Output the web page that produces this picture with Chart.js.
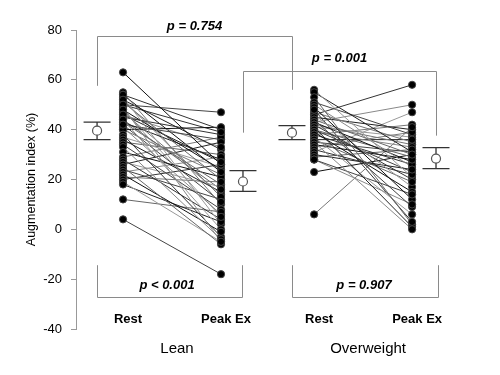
<!DOCTYPE html>
<html>
<head>
<meta charset="utf-8">
<script src="https://cdn.jsdelivr.net/npm/chart.js@4/dist/chart.umd.min.js"></script>
<style>
  html, body { margin: 0; padding: 0; background: #fff; }
  #wrap { width: 500px; height: 375px; }
</style>
</head>
<body>
<div id="wrap"><canvas id="aixChart" width="500" height="375"></canvas></div>
<script>
// Augmentation index, paired rest vs peak exercise
const yTicks = [-40, -20, 0, 20, 40, 60, 80]
const conditions = ["Rest", "Peak Ex"]
const groups = ["Lean", "Overweight"]

const leanRest = [63, 55, 54, 53, 52, 51, 50, 49, 48, 47, 45, 44, 43, 43, 42, 41, 40, 40, 38, 37, 36, 35, 34, 33,
  31, 29, 28, 27, 26, 25, 24, 23, 22, 21, 20, 19, 18, 12, 4, 46, 54, 52, 50, 48, 46, 44, 42]
const leanPeak = [26, 10, 40, 2, 32, 20, 47, -5, 24, 14, 38, 0, 28, 18, 36, 6, 41, 22, -3, 25, 15, 30, 8, -4,
  21, 37, 4, 17, 35, -6, 12, 29, -1, 19, 26, -5, 3, 7, -18, 33, 23, 13, 39, 5, 27, 16, 11]

const owRest = [56, 55, 53, 51, 50, 49, 47, 46, 46, 45, 44, 44, 43, 43, 42, 42, 41, 41, 40, 40, 39, 39, 38, 38,
  37, 36, 36, 35, 35, 34, 33, 32, 31, 30, 29, 28, 28, 23, 6, 48]
const owPeak = [21, 31, 2, 38, 25, 12, 35, 58, 17, 40, 30, 9, 50, 27, 34, 20, 37, 1, 29, 23, 33, 15, 42, 26,
  6, 36, 19, 31, 0, 28, 39, 22, 47, 24, 32, 14, 10, 30, 41, 3]

// group means and error bar limits: [lean rest, lean peak, ow rest, ow peak]
const meanVals = [39.6, 19.2, 38.8, 28.4]
const errLow = [36, 15.2, 36, 24.4]
const errHigh = [43, 23.6, 41.6, 32.8]

const pLabels = ["p = 0.754", "p = 0.001", "p < 0.001", "p = 0.907"]

// x positions of columns (rest/peak per group) and of the mean markers
const colX = [1, 2, 2.95, 3.95]
const meanX = [0.735, 2.224, 2.724, 4.194]

const lineGreys = ["#111", "#777", "#333", "#999", "#222", "#666", "#444", "#888"]

function pairSets(rest, peak, xa, xb, offset) {
  return rest.map((r, i) => ({
    type: "line",
    data: [{ x: xa, y: r }, { x: xb, y: peak[i] }],
    borderColor: lineGreys[(i + offset) % lineGreys.length],
    borderWidth: 1,
    pointRadius: 0,
    order: 3,
  }))
}

function dotSet(vals, x) {
  return {
    type: "scatter",
    data: vals.map(v => ({ x: x, y: v })),
    backgroundColor: "#000",
    borderColor: "#444",
    borderWidth: 1,
    pointRadius: 3.6,
    order: 1,
  }
}

const meanSet = {
  type: "scatter",
  data: meanVals.map((v, i) => ({ x: meanX[i], y: v })),
  backgroundColor: "#fff",
  borderColor: "#555",
  borderWidth: 1.2,
  pointRadius: 4.5,
  order: 0,
}

// error bars, brackets and texts
const decorPlugin = {
  id: "decor",
  beforeDatasetsDraw(chart) {
    const { ctx } = chart
    const xs = chart.scales.x, ys = chart.scales.y
    const X = v => xs.getPixelForValue(v)
    const Y = v => ys.getPixelForValue(v)
    ctx.save()
    ctx.strokeStyle = "#333"
    ctx.lineWidth = 1.3
    meanVals.forEach((m, i) => {
      const cx = X(meanX[i])
      ctx.beginPath()
      ctx.moveTo(cx, Y(errLow[i])); ctx.lineTo(cx, Y(errHigh[i]))
      ctx.moveTo(cx - 13.5, Y(errLow[i])); ctx.lineTo(cx + 13.5, Y(errLow[i]))
      ctx.moveTo(cx - 13.5, Y(errHigh[i])); ctx.lineTo(cx + 13.5, Y(errHigh[i]))
      ctx.stroke()
    })
    ctx.restore()
  },
  afterDraw(chart) {
    const { ctx } = chart
    const xs = chart.scales.x, ys = chart.scales.y
    const X = v => xs.getPixelForValue(v)
    const Y = v => ys.getPixelForValue(v)
    const crisp = v => Math.round(v) + 0.5
    ctx.save()
    ctx.strokeStyle = "#8a8a8a"
    ctx.lineWidth = 1
    function bracket(x1, x2, yLevel, y1, y2) {
      ctx.beginPath()
      ctx.moveTo(crisp(X(x1)), Y(y1))
      ctx.lineTo(crisp(X(x1)), crisp(Y(yLevel)))
      ctx.lineTo(crisp(X(x2)), crisp(Y(yLevel)))
      ctx.lineTo(crisp(X(x2)), Y(y2))
      ctx.stroke()
    }
    bracket(meanX[0], meanX[2], 77.6, 57.6, 56)
    bracket(meanX[1], meanX[3], 63.6, 38.8, 37.6)
    bracket(meanX[0], meanX[1] - 0.01, -27.2, -14.4, -14.4)
    bracket(meanX[2], meanX[3] + 0.02, -27.2, -14.4, -14.4)

    ctx.fillStyle = "#000"
    ctx.textAlign = "center"
    ctx.textBaseline = "middle"
    ctx.font = "italic bold 13px 'Liberation Sans', Arial, sans-serif"
    ctx.fillText(pLabels[0], (X(meanX[0]) + X(meanX[2])) / 2, Y(81.6))
    ctx.fillText(pLabels[1], (X(meanX[1]) + X(meanX[3])) / 2, Y(68.4))
    ctx.fillText(pLabels[2], (X(meanX[0]) + X(meanX[1])) / 2 - 3, Y(-22.4))
    ctx.fillText(pLabels[3], (X(meanX[2]) + X(meanX[3])) / 2, Y(-22.4))

    ctx.font = "bold 13px 'Liberation Sans', Arial, sans-serif"
    colX.forEach((cx, i) => {
      ctx.fillText(conditions[i % 2], X(cx) + 5, Y(-36))
    })
    ctx.font = "15px 'Liberation Sans', Arial, sans-serif"
    ctx.fillText(groups[0], (X(colX[0]) + X(colX[1])) / 2 + 5, Y(-48))
    ctx.fillText(groups[1], (X(colX[2]) + X(colX[3])) / 2 + 5, Y(-48))
    ctx.restore()
  },
}

const datasets = [
  ...pairSets(leanRest, leanPeak, colX[0], colX[1], 0),
  ...pairSets(owRest, owPeak, colX[2], colX[3], 3),
  dotSet(leanRest, colX[0]),
  dotSet(leanPeak, colX[1]),
  dotSet(owRest, colX[2]),
  dotSet(owPeak, colX[3]),
  meanSet,
]

new Chart(document.getElementById("aixChart"), {
  type: "scatter",
  data: { datasets },
  plugins: [decorPlugin],
  options: {
    responsive: false,
    animation: false,
    layout: { padding: { left: 0, right: 10, top: 30, bottom: 46 } },
    plugins: { legend: { display: false }, tooltip: { enabled: false } },
    scales: {
      x: {
        type: "linear",
        min: 0.52,
        max: 4.745,
        display: false,
      },
      y: {
        min: -40,
        max: 80,
        afterFit(scale) { scale.width = 76 },
        afterBuildTicks(scale) { scale.ticks = yTicks.map(v => ({ value: v })) },
        grid: { drawOnChartArea: false, drawTicks: true, tickLength: 5, color: "#999" },
        border: { display: true, color: "#999" },
        ticks: {
          padding: 9,
          color: "#000",
          font: { family: "'Liberation Sans', Arial, sans-serif", size: 13 },
        },
        title: {
          display: true,
          text: "Augmentation index (%)",
          color: "#000",
          padding: { top: 24, bottom: 0 },
          font: { family: "'Liberation Sans', Arial, sans-serif", size: 12.5 },
        },
      },
    },
  },
})
</script>
</body>
</html>
